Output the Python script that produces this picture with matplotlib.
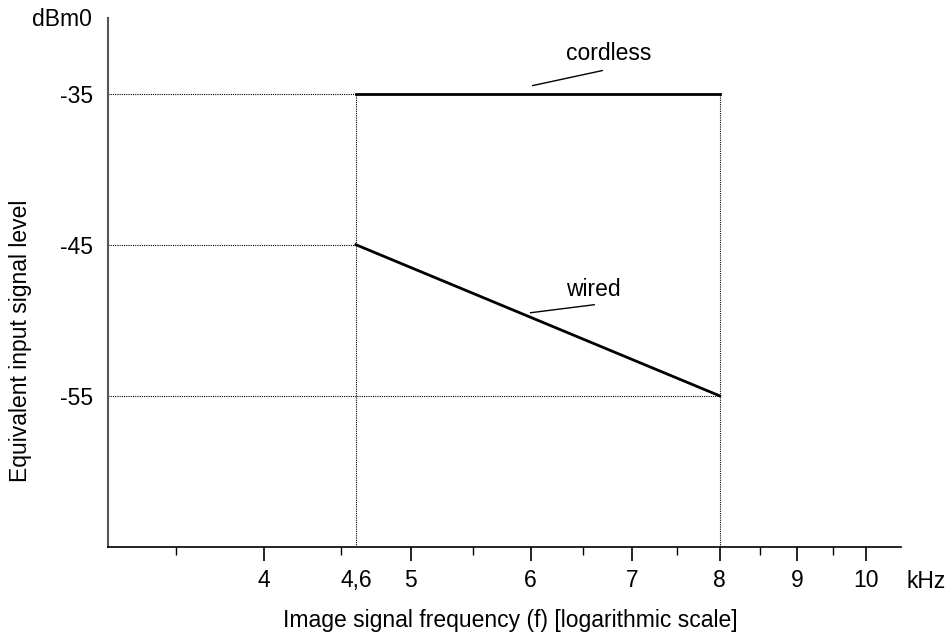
import numpy as np
import matplotlib.pyplot as plt
from matplotlib.ticker import FixedLocator, NullFormatter

plt.rcParams['font.family'] = ['Liberation Sans', 'DejaVu Sans']

# data
freq = [4.6, 8.0]
cordless = [-35, -35]
wired = [-45, -55]
xticks = [4, 4.6, 5, 6, 7, 8, 9, 10]
xticklabels = ['4', '4,6', '5', '6', '7', '8', '9', '10']
minor = [3.5, 4.5, 5.5, 6.5, 7.5, 8.5, 9.5]
yticks = [-35, -45, -55]

xmin, xmax = 3.155, 10.54
ymin, ymax = -65, -30
fs = 16.5

fig = plt.figure(figsize=(9.51, 6.43), dpi=100)
ax = fig.add_axes([0.1136, 0.1493, 0.8338, 0.8227])
ax.set_xscale('log')
ax.set_xlim(xmin, xmax)
ax.set_ylim(ymin, ymax)

dot = dict(color='black', lw=0.8, ls=(0, (1, 1)))
# guide lines
ax.plot([xmin, freq[0]], [cordless[0]] * 2, **dot)
ax.plot([xmin, freq[0]], [wired[0]] * 2, **dot)
ax.plot([xmin, freq[1]], [wired[1]] * 2, **dot)
ax.plot([freq[0]] * 2, [ymin, cordless[0]], **dot)
ax.plot([freq[1]] * 2, [ymin, cordless[1]], **dot)

ax.plot(freq, cordless, color='black', lw=2)
ax.plot(freq, wired, color='black', lw=2)

# leader lines and labels
ax.plot([6.02, 6.69], [-34.47, -33.48], color='black', lw=1)
ax.text(6.76, -32.35, 'cordless', ha='center', va='center', fontsize=fs)
ax.plot([6.0, 6.61], [-49.5, -48.97], color='black', lw=1)
ax.text(6.6, -47.98, 'wired', ha='center', va='center', fontsize=fs)

for s in ['top', 'right']:
    ax.spines[s].set_visible(False)
ax.spines['left'].set_color('#555555')
ax.spines['left'].set_linewidth(1.5)
ax.spines['bottom'].set_linewidth(1.2)

ax.xaxis.set_minor_locator(FixedLocator(minor))
ax.xaxis.set_minor_formatter(NullFormatter())
ax.set_xticks(xticks)
ax.set_xticklabels(xticklabels, fontsize=fs)
ax.tick_params(axis='x', which='major', length=10, width=1.2, pad=6, direction='out')
ax.tick_params(axis='x', which='minor', length=6, width=1.0, direction='out')
# no tick mark at 4,6
ax.xaxis.get_major_ticks()[1].tick1line.set_visible(False)

ax.set_yticks(yticks)
ax.set_yticklabels([str(v) for v in yticks], fontsize=fs)
ax.tick_params(axis='y', length=0, pad=11)

fig.text(0.097, 0.970, 'dBm0', ha='right', va='center', fontsize=fs)
fig.text(0.974, 0.0964, 'kHz', ha='center', va='center', fontsize=fs)
fig.text(0.022, 0.47, 'Equivalent input signal level', rotation=90,
         ha='center', va='center', fontsize=fs)
fig.text(0.537, 0.035, 'Image signal frequency (f) [logarithmic scale]',
         ha='center', va='center', fontsize=fs)

fig.savefig('out.png', dpi=100)
